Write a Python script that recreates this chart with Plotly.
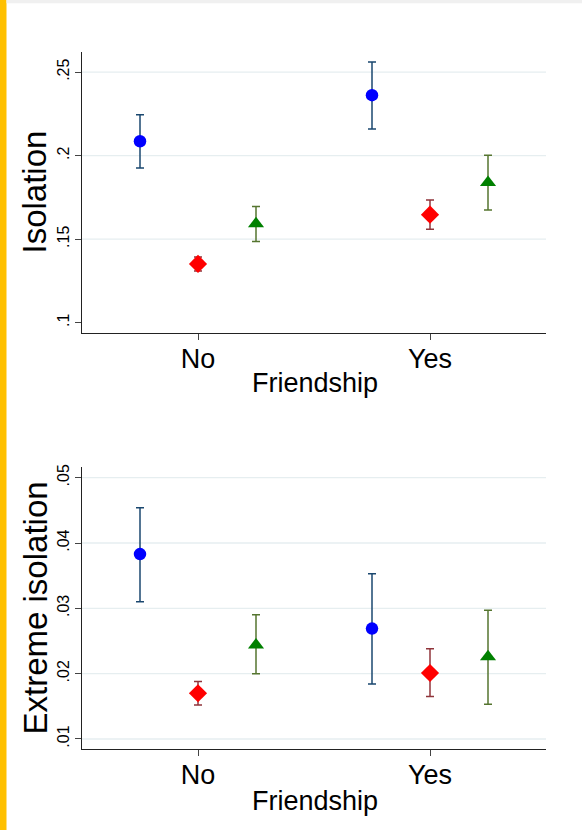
import plotly.graph_objects as go

# Friendship groups on the x axis; each series sits at a fixed offset inside its group
groups = ["No", "Yes"]
group_pos = [0, 1]
series_offsets = [-0.25, 0.0, 0.25]

# Isolation: point estimates with lower / upper confidence limits
iso_blue = [0.2086, 0.2362]
iso_blue_lo = [0.1926, 0.2159]
iso_blue_hi = [0.2244, 0.2560]
iso_red = [0.1352, 0.1647]
iso_red_lo = [0.1310, 0.1560]
iso_red_hi = [0.1394, 0.1734]
iso_green = [0.1592, 0.1840]
iso_green_lo = [0.1486, 0.1675]
iso_green_hi = [0.1695, 0.2002]

# Extreme isolation
ext_blue = [0.0383, 0.0269]
ext_blue_lo = [0.0310, 0.0184]
ext_blue_hi = [0.0454, 0.0353]
ext_red = [0.0170, 0.0201]
ext_red_lo = [0.0152, 0.0165]
ext_red_hi = [0.0188, 0.0238]
ext_green = [0.0244, 0.0226]
ext_green_lo = [0.0200, 0.0153]
ext_green_hi = [0.0290, 0.0297]

iso_ticks = [0.10, 0.15, 0.20, 0.25]
iso_tick_text = [".1", ".15", ".2", ".25"]
iso_grid = [0.15, 0.20, 0.25]
ext_ticks = [0.01, 0.02, 0.03, 0.04, 0.05]
ext_tick_text = [".01", ".02", ".03", ".04", ".05"]
ext_grid = [0.01, 0.02, 0.03, 0.04, 0.05]

# marker symbol, marker colour, marker size, error-bar colour
styles = [
    ("circle", "#0000ff", 12.5, "#1a476f"),
    ("diamond", "#ff0000", 14, "#90353b"),
    ("triangle-up", "#008000", 14, "#55752f"),
]

FONT = "Liberation Sans, Arial, Helvetica, sans-serif"
W, H = 582, 830

fig = go.Figure()


def add_panel(series, xa, ya):
    for (mean, lo, hi), off, (sym, col, size, ecol) in zip(series, series_offsets, styles):
        xs = [g + off for g in group_pos]
        fig.add_trace(go.Scatter(
            x=xs, y=mean, mode="markers", xaxis=xa, yaxis=ya, showlegend=False,
            marker=dict(symbol=sym, color=col, size=size, line=dict(width=0)),
            error_y=dict(type="data", symmetric=False,
                         array=[h - m for h, m in zip(hi, mean)],
                         arrayminus=[m - l for m, l in zip(mean, lo)],
                         color=ecol, thickness=1.5, width=4),
        ))


add_panel([(iso_blue, iso_blue_lo, iso_blue_hi),
           (iso_red, iso_red_lo, iso_red_hi),
           (iso_green, iso_green_lo, iso_green_hi)], "x", "y")
add_panel([(ext_blue, ext_blue_lo, ext_blue_hi),
           (ext_red, ext_red_lo, ext_red_hi),
           (ext_green, ext_green_lo, ext_green_hi)], "x2", "y2")


def px_x(p):
    return p / W


def px_y(p):
    return 1 - p / H


xdom = [px_x(82), px_x(546)]
axis_common = dict(showline=True, linecolor="#222222", linewidth=1, ticks="outside",
                   ticklen=6, tickwidth=1, tickcolor="#444444", showgrid=False,
                   zeroline=False, automargin=False)

xaxis_common = dict(axis_common, range=[-0.5, 1.5], tickmode="array", tickvals=group_pos,
                    ticktext=groups, tickfont=dict(family=FONT, size=27, color="#000000"),
                    ticklabelstandoff=-5)

fig.update_layout(
    width=W, height=H,
    margin=dict(l=0, r=0, t=0, b=0),
    paper_bgcolor="#ffffff", plot_bgcolor="#ffffff",
    font=dict(family=FONT, color="#000000"),
    xaxis=dict(xaxis_common, domain=xdom, anchor="y"),
    yaxis=dict(axis_common, domain=[px_y(333.3), px_y(51.7)], anchor="x",
               range=[0.0937, 0.2622], tickmode="array", tickvals=iso_ticks,
               ticktext=iso_tick_text, tickangle=-90,
               tickfont=dict(family=FONT, size=16, color="#000000")),
    xaxis2=dict(xaxis_common, domain=xdom, anchor="y2"),
    yaxis2=dict(axis_common, domain=[px_y(749.3), px_y(466.7)], anchor="x2",
                range=[0.00842, 0.05168], tickmode="array", tickvals=ext_ticks,
                ticktext=ext_tick_text, tickangle=-90,
                tickfont=dict(family=FONT, size=16, color="#000000")),
)

# light horizontal grid lines behind the markers
for yref, vals in (("y", iso_grid), ("y2", ext_grid)):
    xref = "x domain" if yref == "y" else "x2 domain"
    for v in vals:
        fig.add_shape(type="line", xref=xref, yref=yref, x0=0, x1=1, y0=v, y1=v,
                      line=dict(color="#e6eef0", width=1.3), layer="below")

# slide frame: accent bar on the left and header strip at the top
fig.add_shape(type="rect", xref="paper", yref="paper", x0=0, x1=px_x(6.5), y0=0, y1=1,
              fillcolor="#ffc000", line=dict(width=0), layer="above")
fig.add_shape(type="rect", xref="paper", yref="paper", x0=px_x(6.5), x1=1, y0=px_y(3.3), y1=1,
              fillcolor="#f0f0f0", line=dict(width=0), layer="above")

# axis titles
title_font_y = dict(family=FONT, size=33, color="#000000")
title_font_x = dict(family=FONT, size=27, color="#000000")
fig.add_annotation(text="Isolation", xref="paper", yref="paper", x=px_x(34), y=px_y(192.5),
                   xanchor="center", yanchor="middle", textangle=-90, showarrow=False,
                   font=title_font_y)
fig.add_annotation(text="Extreme isolation", xref="paper", yref="paper", x=px_x(34.5),
                   y=px_y(608), xanchor="center", yanchor="middle", textangle=-90,
                   showarrow=False, font=title_font_y)
fig.add_annotation(text="Friendship", xref="paper", yref="paper", x=px_x(314.5),
                   y=px_y(383), xanchor="center", yanchor="middle", showarrow=False,
                   font=title_font_x)
fig.add_annotation(text="Friendship", xref="paper", yref="paper", x=px_x(314.5),
                   y=px_y(800.5), xanchor="center", yanchor="middle", showarrow=False,
                   font=title_font_x)

fig.write_html("out.html")
